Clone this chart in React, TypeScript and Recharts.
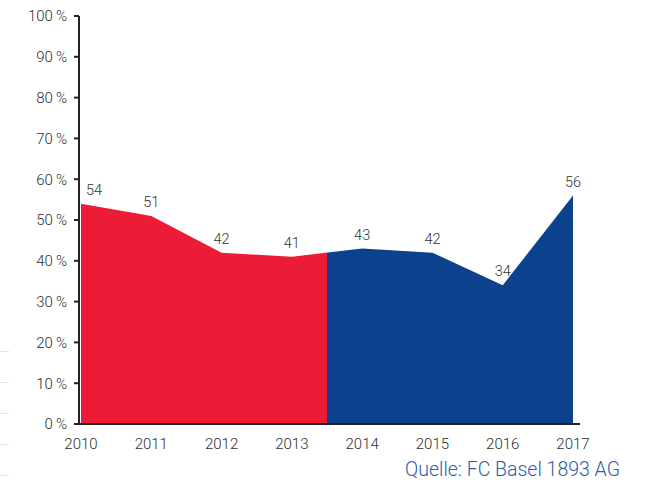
import React from "react";
import { AreaChart, Area, XAxis, YAxis, LabelList } from "recharts";

const years = [2010, 2011, 2012, 2013, 2014, 2015, 2016, 2017];
const values = [54, 51, 42, 41, 43, 42, 34, 56];
const yTicks = [0, 10, 20, 30, 40, 50, 60, 70, 80, 90, 100];
const sourceText = "Quelle: FC Basel 1893 AG";

const data = years.map((y, i) => ({ year: y, value: values[i] }));

const FONT = "Roboto, 'Open Sans', sans-serif";

const ValueLabel = (props: any) => {
  const { x, y, value, index } = props;
  const dx = index === 0 ? 13 : 0;
  return (
    <text x={x + dx} y={y - 9} textAnchor="middle" fontSize={14.5} fill="#333" fontFamily={FONT} fontWeight={300}>
      {value}
    </text>
  );
};

export default function App() {
  return (
    <div style={{ position: "absolute", left: 0, top: 0, width: 655, height: 485, background: "#fff" }}>
      {[351, 382, 413, 444, 475].map((t) => (
        <div key={t} style={{ position: "absolute", left: 0, top: t, width: 9, height: 1, background: "#e4e4e4" }} />
      ))}
      <AreaChart width={655} height={485} data={data} margin={{ top: 16, right: 75, bottom: 31, left: 0 }}>
        <defs>
          <linearGradient id="split" x1="0" y1="0" x2="1" y2="0">
            <stop offset="0.5" stopColor="#ED1C36" />
            <stop offset="0.5" stopColor="#0B418D" />
          </linearGradient>
        </defs>
        <XAxis
          dataKey="year"
          type="number"
          domain={[2010, 2017]}
          ticks={years}
          height={30}
          padding={{ left: 2, right: 7 }}
          tickLine={false}
          axisLine={{ stroke: "#222", strokeWidth: 2 }}
          tick={{ fill: "#2e2e2e", fontSize: 15, fontFamily: FONT, fontWeight: 300 }}
          tickMargin={8}
        />
        <YAxis
          type="number"
          domain={[0, 100]}
          ticks={yTicks}
          width={79}
          interval={0}
          tickFormatter={(v: number) => `${v}\u2009%`}
          axisLine={{ stroke: "#222", strokeWidth: 2 }}
          tickLine={{ stroke: "#222", strokeWidth: 2 }}
          tickSize={5}
          tickMargin={7}
          tick={{ fill: "#2e2e2e", fontSize: 15, fontFamily: FONT, fontWeight: 300 }}
        />
        <Area
          type="linear"
          dataKey="value"
          stroke="none"
          fill="url(#split)"
          fillOpacity={1}
          isAnimationActive={false}
        >
          <LabelList dataKey="value" content={<ValueLabel />} />
        </Area>
      </AreaChart>
      <div
        style={{
          position: "absolute",
          left: 405,
          top: 458,
          fontFamily: FONT,
          fontSize: 19.5,
          fontWeight: 300,
          color: "#2d5ea6",
          whiteSpace: "nowrap",
        }}
      >
        {sourceText}
      </div>
    </div>
  );
}
